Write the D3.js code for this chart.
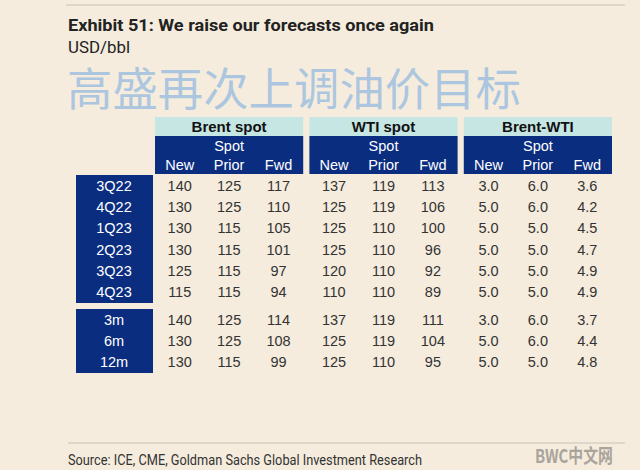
<!DOCTYPE html>
<html><head><meta charset="utf-8">
<script src="https://cdn.jsdelivr.net/npm/d3@7"></script>
<style>
body{margin:0;background:#f5ecdd;}
svg{display:block;}
</style></head><body>
<script>
const groups = ["Brent spot", "WTI spot", "Brent-WTI"];
const subCols = ["New", "Prior", "Fwd"];
const quarters = ["3Q22", "4Q22", "1Q23", "2Q23", "3Q23", "4Q23"];
const horizons = ["3m", "6m", "12m"];
const quarterValues = [
	["140", "125", "117", "137", "119", "113", "3.0", "6.0", "3.6"],
	["130", "125", "110", "125", "119", "106", "5.0", "6.0", "4.2"],
	["130", "115", "105", "125", "110", "100", "5.0", "5.0", "4.5"],
	["130", "115", "101", "125", "110", "96", "5.0", "5.0", "4.7"],
	["125", "115", "97", "120", "110", "92", "5.0", "5.0", "4.9"],
	["115", "115", "94", "110", "110", "89", "5.0", "5.0", "4.9"]
];
const horizonValues = [
	["140", "125", "114", "137", "119", "111", "3.0", "6.0", "3.7"],
	["130", "125", "108", "125", "119", "104", "5.0", "6.0", "4.4"],
	["130", "115", "99", "125", "110", "95", "5.0", "5.0", "4.8"]
];

const W = 640, H = 470;
const navy = "#0b2d80", cyan = "#c6e6e4", cond = "Roboto,sans-serif";
const svg = d3.select("body").append("svg").attr("width", W).attr("height", H);
svg.append("rect").attr("width", W).attr("height", H).attr("fill", "#f5ecdd");

svg.append("line").attr("x1", 66).attr("x2", 625).attr("y1", 5).attr("y2", 5).attr("stroke", "#c9c2b6");
svg.append("text").attr("x", 68).attr("y", 31).attr("font-family", cond).attr("font-weight", "bold")
	.attr("font-size", 17).attr("fill", "#222").attr("textLength", 366).attr("lengthAdjust", "spacingAndGlyphs")
	.text("Exhibit 51: We raise our forecasts once again");
svg.append("text").attr("x", 68).attr("y", 53).attr("font-family", cond)
	.attr("font-size", 16).attr("fill", "#222").attr("textLength", 62).attr("lengthAdjust", "spacingAndGlyphs").text("USD/bbl");
svg.append("text").attr("x", 67).attr("y", 106).attr("font-family", "'Noto Sans CJK SC'")
	.attr("font-size", 45).attr("fill", "#9fc0e0").attr("fill-opacity", 0.85)
	.attr("textLength", 454).attr("lengthAdjust", "spacingAndGlyphs").text("高盛再次上调油价目标");

// column scales
const gx = d3.scaleBand().domain(groups).range([155, 612]).paddingInner(0.04);
const sx = d3.scaleBand().domain(subCols).range([0, gx.bandwidth()]);
const colX = i => gx(groups[Math.floor(i / 3)]) + sx(subCols[i % 3]) + sx.bandwidth() / 2;

// header
const hg = svg.append("g");
groups.forEach(g => {
	hg.append("rect").attr("x", gx(g)).attr("y", 117).attr("width", gx.bandwidth()).attr("height", 19).attr("fill", cyan);
	hg.append("rect").attr("x", gx(g)).attr("y", 136).attr("width", gx.bandwidth()).attr("height", 38).attr("fill", navy);
	hg.append("text").attr("x", gx(g) + gx.bandwidth() / 2).attr("y", 132).attr("text-anchor", "middle")
		.attr("font-family", "'Liberation Sans',sans-serif").attr("font-weight", "bold").attr("font-size", 15).attr("fill", "#111").text(g);
	hg.append("text").attr("x", gx(g) + gx.bandwidth() / 2).attr("y", 151).attr("text-anchor", "middle")
		.attr("font-family", "'Liberation Sans',sans-serif").attr("font-size", 14.5).attr("fill", "#fff").text("Spot");
	subCols.forEach(s => hg.append("text").attr("x", gx(g) + sx(s) + sx.bandwidth() / 2).attr("y", 170)
		.attr("text-anchor", "middle").attr("font-family", "'Liberation Sans',sans-serif").attr("font-size", 14.5)
		.attr("fill", "#fff").text(s));
});

function block(labels, values, y0, y1) {
	const ry = d3.scaleBand().domain(labels).range([y0, y1]);
	const g = svg.append("g");
	g.append("rect").attr("x", 76).attr("y", y0).attr("width", 77).attr("height", y1 - y0).attr("fill", navy);
	labels.forEach((l, r) => {
		const cy = ry(l) + ry.bandwidth() / 2 + 5;
		g.append("text").attr("x", 114).attr("y", cy).attr("text-anchor", "middle")
			.attr("font-family", "'Liberation Sans',sans-serif").attr("font-size", 14.5).attr("fill", "#fff").text(l);
		g.selectAll(null).data(values[r]).enter().append("text")
			.attr("x", (d, i) => colX(i)).attr("y", cy).attr("text-anchor", "middle")
			.attr("font-family", "'Liberation Sans',sans-serif").attr("font-size", 14.5).attr("fill", "#333").text(d => d);
	});
}
block(quarters, quarterValues, 175, 303);
block(horizons, horizonValues, 309, 373);

svg.append("line").attr("x1", 68).attr("x2", 625).attr("y1", 443).attr("y2", 443).attr("stroke", "#c9c2b6");
svg.append("text").attr("x", 68).attr("y", 465).attr("font-family", cond)
	.attr("font-size", 14.5).attr("fill", "#333").attr("textLength", 354).attr("lengthAdjust", "spacingAndGlyphs")
	.text("Source: ICE, CME, Goldman Sachs Global Investment Research");
svg.append("text").attr("x", 535).attr("y", 463).attr("font-family", "'Noto Sans CJK SC'")
	.attr("font-weight", "bold").attr("font-size", 19).attr("fill", "#a9a49c")
	.attr("textLength", 78).attr("lengthAdjust", "spacingAndGlyphs").text("BWC中文网");
</script>
</body></html>
